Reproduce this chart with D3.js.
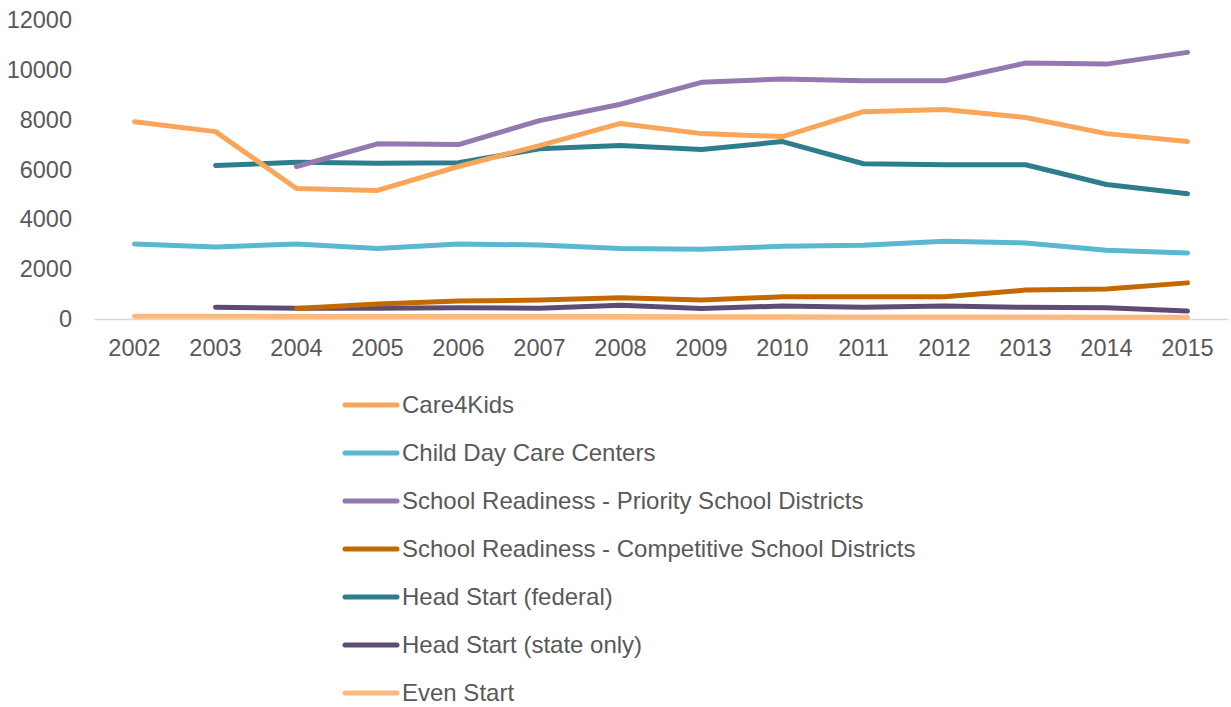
<!DOCTYPE html>
<html>
<head>
<meta charset="utf-8">
<script src="https://cdn.jsdelivr.net/npm/d3@7"></script>
<style>
  html, body { margin: 0; padding: 0; background: #fff; }
  svg { display: block; font-family: 'Liberation Sans', Arial, sans-serif; }
</style>
</head>
<body>
<svg id="chart"></svg>
<script>
const years = ['2002','2003','2004','2005','2006','2007','2008','2009','2010','2011','2012','2013','2014','2015'];
const yTicks = [0, 2000, 4000, 6000, 8000, 10000, 12000];

const seriesNames = [
  'Care4Kids',
  'Child Day Care Centers',
  'School Readiness - Priority School Districts',
  'School Readiness - Competitive School Districts',
  'Head Start (federal)',
  'Head Start (state only)',
  'Even Start'
];
const seriesColors = ['#f9a65a', '#5bb8d1', '#9479b0', '#c46900', '#2e7d8c', '#5e4b74', '#fbb97f'];

const care4Kids   = [7920, 7520, 5240, 5160, 6120, 6960, 7850, 7440, 7320, 8320, 8410, 8090, 7440, 7120];
const childDay    = [3010, 2890, 3010, 2830, 3010, 2970, 2830, 2800, 2920, 2960, 3120, 3050, 2760, 2650];
const srPriority  = [null, null, 6120, 7030, 7000, 7960, 8620, 9500, 9630, 9560, 9560, 10270, 10230, 10700];
const srCompet    = [null, null, 420, 600, 720, 760, 850, 760, 890, 890, 890, 1160, 1200, 1450];
const hsFederal   = [null, 6160, 6290, 6250, 6270, 6830, 6960, 6800, 7120, 6230, 6190, 6190, 5400, 5030];
const hsState     = [null, 470, 430, 430, 450, 430, 550, 420, 520, 470, 520, 470, 450, 320];
const evenStart   = [110, 110, 105, 105, 105, 100, 100, 90, 90, 85, 85, 80, 75, 70];

const seriesValues = [care4Kids, childDay, srPriority, srCompet, hsFederal, hsState, evenStart];

const W = 1231, H = 707;
const margin = {left: 94, right: 3, top: 20, bottom: 388};
const fontSize = '23.5px';

const svg = d3.select('#chart').attr('width', W).attr('height', H);

const x = d3.scaleBand().domain(years).range([margin.left, W - margin.right]);
const y = d3.scaleLinear().domain([0, 12000]).range([H - margin.bottom, margin.top]);

// y axis labels only
const yAxis = svg.append('g')
  .attr('transform', 'translate(' + (margin.left - 22) + ',0)')
  .call(d3.axisLeft(y).tickValues(yTicks).tickFormat(d3.format('d')).tickSize(0).tickPadding(0));
yAxis.select('.domain').remove();
yAxis.selectAll('text')
  .attr('fill', '#595959')
  .style('font-size', fontSize);

// x axis
const xAxis = svg.append('g')
  .attr('transform', 'translate(0,' + y(0) + ')')
  .call(d3.axisBottom(x).tickSize(0).tickPadding(20));
xAxis.select('.domain').attr('stroke', '#d9d9d9').attr('stroke-width', 1.5);
xAxis.selectAll('text')
  .attr('fill', '#595959')
  .style('font-size', fontSize);

// lines
const line = d3.line()
  .defined(d => d.v != null)
  .x(d => x(d.year) + x.bandwidth() / 2)
  .y(d => y(d.v));

// back to front, roughly as in the original
const drawOrder = [6, 5, 3, 1, 4, 0, 2];
drawOrder.forEach(i => {
  const data = years.map((yr, j) => ({year: yr, v: seriesValues[i][j]}));
  svg.append('path')
    .datum(data)
    .attr('fill', 'none')
    .attr('stroke', seriesColors[i])
    .attr('stroke-width', 5)
    .attr('stroke-linejoin', 'round')
    .attr('stroke-linecap', 'round')
    .attr('d', line);
});

// legend
const legend = svg.append('g').attr('transform', 'translate(345,405)');
seriesNames.forEach((name, i) => {
  const g = legend.append('g').attr('transform', 'translate(0,' + (i * 48) + ')');
  g.append('line')
    .attr('x1', 0).attr('x2', 52)
    .attr('y1', 0).attr('y2', 0)
    .attr('stroke', seriesColors[i])
    .attr('stroke-width', 5)
    .attr('stroke-linecap', 'round');
  g.append('text')
    .attr('x', 57)
    .attr('y', 0)
    .attr('dy', '0.35em')
    .attr('fill', '#595959')
    .style('font-size', '24px')
    .text(name);
});
</script>
</body>
</html>
